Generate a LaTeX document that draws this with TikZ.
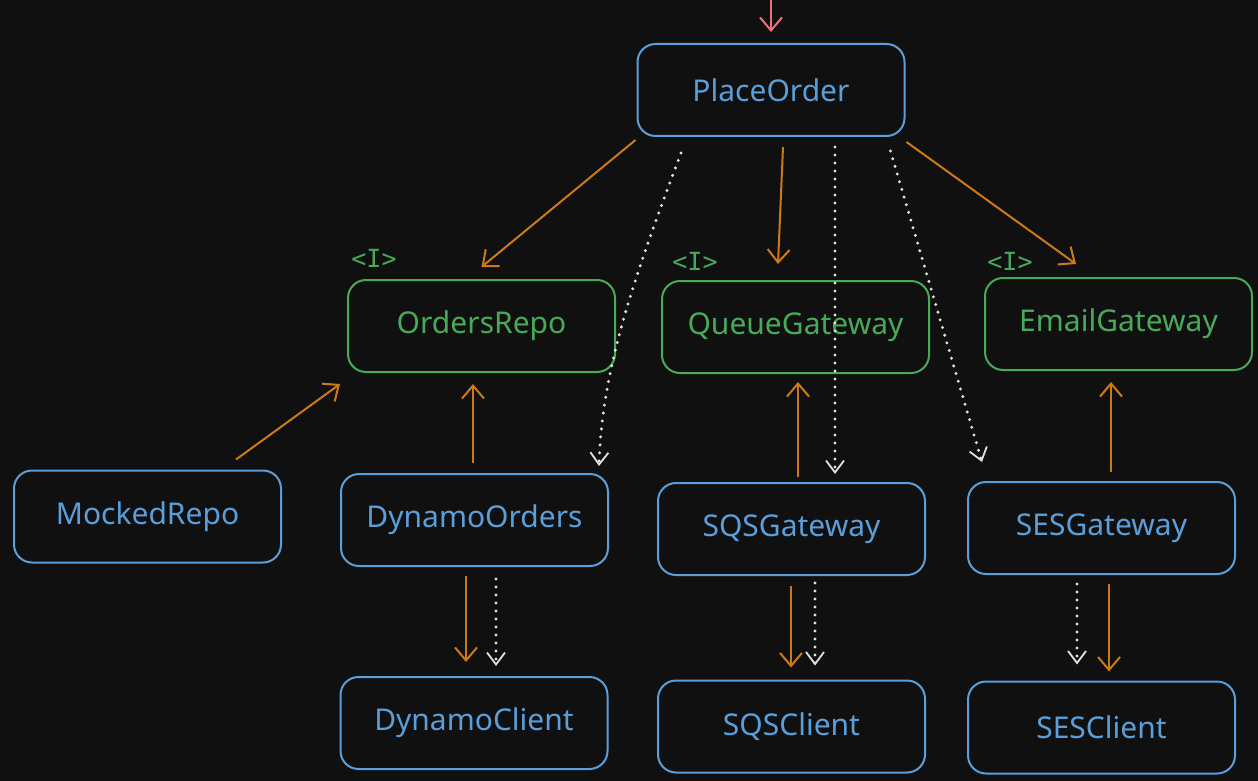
\documentclass[tikz,border=0pt]{standalone}
\usepackage{fontspec}
\setmainfont{Noto Sans}
\newfontfamily\monof{DejaVu Sans Mono}
\usetikzlibrary{arrows.meta,calc}
\definecolor{bgc}{RGB}{16,16,16}
\definecolor{bluec}{RGB}{90,158,218}
\definecolor{greenc}{RGB}{72,170,88}
\definecolor{orangec}{RGB}{204,122,22}
\definecolor{dotc}{RGB}{225,225,225}
\definecolor{redc}{RGB}{242,112,122}
\tikzset{
  box/.style={draw, line width=2pt, rounded corners=18pt, minimum width=267pt, minimum height=92pt, inner sep=0pt, font=\fontsize{30}{34}\selectfont},
  impl/.style={box, draw=bluec, text=bluec},
  iface/.style={box, draw=greenc, text=greenc},
  ilabel/.style={text=greenc, font=\monof\fontsize{25}{28}\selectfont, inner sep=0pt},
  uses/.style={draw=orangec, line width=2pt, -{Straight Barb[length=13pt,width=22pt,line width=2pt]}},
  dep/.style={draw=dotc, line width=3.3pt, line cap=round, dash pattern=on 0pt off 8pt, -{Straight Barb[length=12pt,width=18pt,line width=1.8pt]}},
  entry/.style={draw=redc, line width=2pt, -{Straight Barb[length=13pt,width=22pt,line width=2pt]}}
}
\begin{document}
\begin{tikzpicture}[x=1pt,y=-1pt]
\fill[bgc] (0,0) rectangle (1258,781);
\useasboundingbox (0,0) rectangle (1258,781);

\node[impl]  (po)  at (771,90)      {PlaceOrder};
\node[iface] (or)  at (481.5,326)   {OrdersRepo};
\node[iface] (qg)  at (795.5,327)   {QueueGateway};
\node[iface] (eg)  at (1118.5,324)  {EmailGateway};
\node[impl]  (mr)  at (147.5,516.5) {MockedRepo};
\node[impl]  (do)  at (474.5,520)   {DynamoOrders};
\node[impl]  (sg)  at (791.5,529)   {SQSGateway};
\node[impl]  (seg) at (1101.5,528)  {SESGateway};
\node[impl]  (dc)  at (474,723)     {DynamoClient};
\node[impl]  (sc)  at (791.5,726.5) {SQSClient};
\node[impl]  (sec) at (1101.5,727.5){SESClient};

\node[ilabel] (ior) at (374,258)  {<I>};
\node[ilabel] (iqg) at (695,261)  {<I>};
\node[ilabel] (ieg) at (1010,261) {<I>};

\coordinate (top) at (771,0);
\draw[entry] (top) -- ([yshift=11pt]po.north);

% solid (orange) dependencies
\draw[uses] ([shift={(-1pt,-3pt)}]po.south west) -- ([yshift=12pt]or.north);
\draw[uses] ([shift={(12pt,-10pt)}]po.south) -- ([shift={(-17.5pt,16pt)}]qg.north);
\draw[uses] ([shift={(1pt,-5pt)}]po.south east) -- ([shift={(-42.5pt,13pt)}]eg.north);
\draw[uses] ([shift={(88.5pt,10pt)}]mr.north) -- ([shift={(-7pt,-11pt)}]or.south west);
\draw[uses] ([shift={(-1.5pt,10pt)}]do.north) -- ([shift={(-8.5pt,-11pt)}]or.south);
\draw[uses] ([shift={(6.5pt,5pt)}]sg.north) -- ([shift={(2.5pt,-8pt)}]qg.south);
\draw[uses] ([shift={(9.5pt,9pt)}]seg.north) -- ([shift={(-7.5pt,-11pt)}]eg.south);
\draw[uses] ([shift={(-8.5pt,-9pt)}]do.south) -- ([shift={(-8pt,14pt)}]dc.north);
\draw[uses] ([shift={(-0.5pt,-10pt)}]sg.south) -- ([shift={(-0.5pt,12pt)}]sc.north);
\draw[uses] ([shift={(7.5pt,-9pt)}]seg.south) -- ([shift={(7.5pt,9pt)}]sec.north);

% dotted (runtime) dependencies
\draw[dep] ([shift={(-90pt,-16pt)}]po.south) .. controls +(-45pt,-120pt) and +(3pt,100pt) .. ([shift={(-10pt,7pt)}]do.north east);
\draw[dep] ([shift={(64pt,-10pt)}]po.south) -- ([shift={(43.5pt,8pt)}]sg.north);
\draw[dep] ([shift={(-15pt,-14pt)}]po.south east) -- ([shift={(15pt,19pt)}]seg.north west);
\draw[dep] ([shift={(21.5pt,-12pt)}]do.south) -- ([shift={(22pt,10pt)}]dc.north);
\draw[dep] ([shift={(23.5pt,-7pt)}]sg.south) -- ([shift={(23.5pt,14pt)}]sc.north);
\draw[dep] ([shift={(-24.5pt,-9pt)}]seg.south) -- ([shift={(-24.5pt,16pt)}]sec.north);
\end{tikzpicture}
\end{document}
